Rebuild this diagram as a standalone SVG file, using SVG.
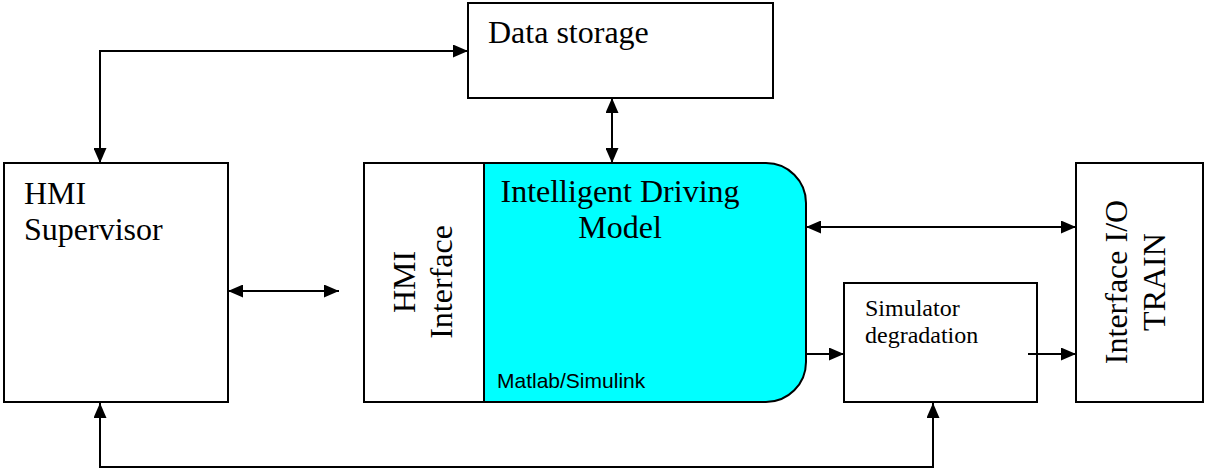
<svg xmlns="http://www.w3.org/2000/svg" width="1205" height="469" viewBox="0 0 1205 469">
<style>
.box{fill:#fff;stroke:#000;stroke-width:2}
.serif{font-family:"Liberation Serif","Times New Roman",serif;fill:#000}
.big{font-size:32px}
.small{font-size:24px}
.sans{font-family:"Liberation Sans",Arial,sans-serif;font-size:21px;fill:#000}
.conn{fill:none;stroke:#000;stroke-width:2}
</style>
<defs>
<marker id="arr" viewBox="0 0 15 13" refX="15" refY="6.5" markerWidth="15" markerHeight="13" markerUnits="userSpaceOnUse" orient="auto-start-reverse">
<path d="M0,0 L15,6.5 L0,13 z" fill="#000"/>
</marker>
</defs>
<rect width="1205" height="469" fill="#fff"/>
<g id="data-storage">
<rect class="box" x="468" y="3" width="305" height="95"/>
<text class="serif big" x="488" y="43">Data storage</text>
</g>
<g id="hmi-supervisor">
<rect class="box" x="4" y="163" width="224" height="239"/>
<text class="serif big" x="24" y="204">HMI</text>
<text class="serif big" x="24" y="240">Supervisor</text>
</g>
<g id="intelligent-driving-model">
<path d="M484,163 H766 A40,40 0 0 1 806,203 V362 A40,40 0 0 1 766,402 H484 Z" fill="#00ffff"/>
<path d="M364,163 H766 A40,40 0 0 1 806,203 V362 A40,40 0 0 1 766,402 H364 Z" fill="none" stroke="#000" stroke-width="2"/>
<text class="serif big" x="620" y="202" text-anchor="middle">Intelligent Driving</text>
<text class="serif big" x="620" y="238" text-anchor="middle">Model</text>
<text class="sans" x="497" y="388">Matlab/Simulink</text>
</g>
<g id="hmi-interface">
<line x1="484" y1="163" x2="484" y2="402" stroke="#000" stroke-width="2"/>
<text class="serif big" transform="translate(415,282) rotate(-90)" text-anchor="middle">HMI</text>
<text class="serif big" transform="translate(452,282) rotate(-90)" text-anchor="middle">Interface</text>
</g>
<g id="simulator-degradation">
<rect class="box" x="844" y="283" width="193" height="119"/>
<text class="serif small" x="865" y="316">Simulator</text>
<text class="serif small" x="865" y="343">degradation</text>
</g>
<g id="interface-io-train">
<rect class="box" x="1076" y="163" width="127" height="239"/>
<text class="serif big" transform="translate(1127,282) rotate(-90)" text-anchor="middle">Interface I/O</text>
<text class="serif big" transform="translate(1165,282) rotate(-90)" text-anchor="middle">TRAIN</text>
</g>
<g id="connectors">
<path class="conn" d="M100,163 V51 H468" marker-start="url(#arr)" marker-end="url(#arr)"/>
<path class="conn" d="M612,98 V163" marker-start="url(#arr)" marker-end="url(#arr)"/>
<path class="conn" d="M228,291 H339" marker-start="url(#arr)" marker-end="url(#arr)"/>
<path class="conn" d="M806,227 H1076" marker-start="url(#arr)" marker-end="url(#arr)"/>
<path class="conn" d="M806,354 H844" marker-end="url(#arr)"/>
<path class="conn" d="M1028,354 H1076" marker-end="url(#arr)"/>
<path class="conn" d="M100,403 V467 H933 V403" marker-start="url(#arr)" marker-end="url(#arr)"/>
</g>
</svg>
